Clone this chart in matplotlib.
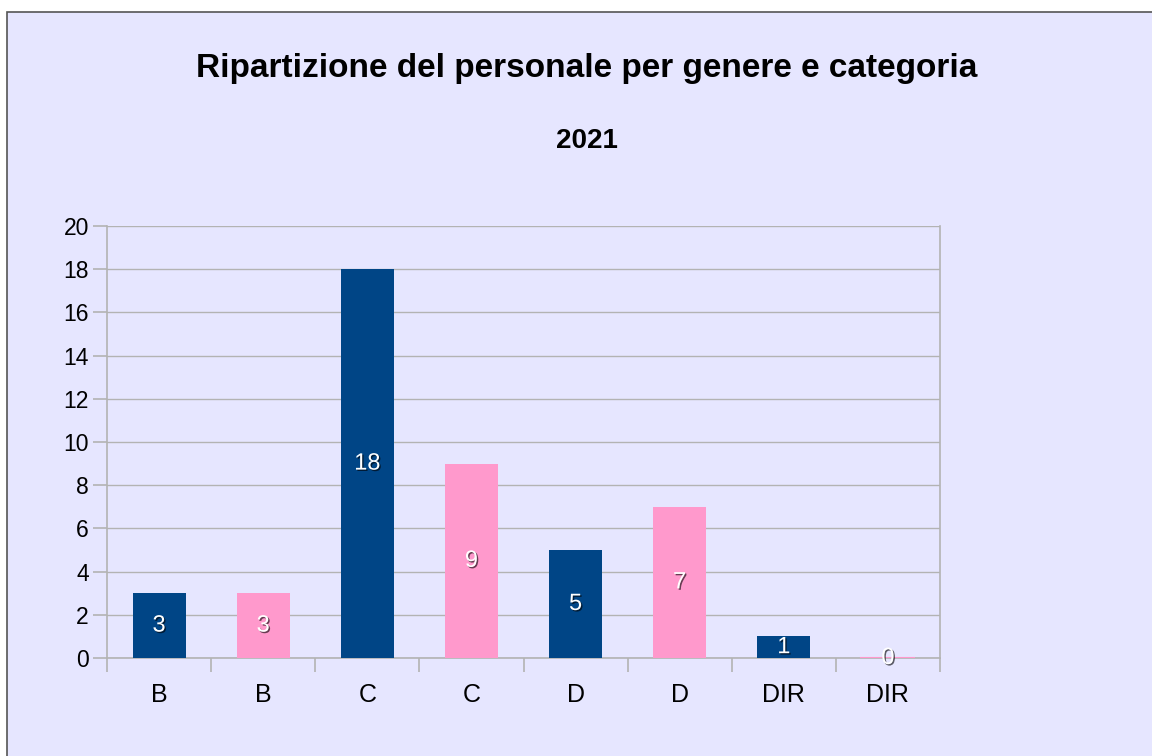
import matplotlib
matplotlib.use('Agg')
import matplotlib.pyplot as plt
import matplotlib.patheffects as pe
from matplotlib.patches import Rectangle

# data
categories = ["B", "B", "C", "C", "D", "D", "DIR", "DIR"]
values = [3, 3, 18, 9, 5, 7, 1, 0]
colors = ["#004586", "#ff99cc"] * 4

title = "Ripartizione del personale per genere e categoria"
subtitle = "2021"

plt.rcParams['font.family'] = ['Liberation Sans', 'DejaVu Sans']

fig = plt.figure(figsize=(11.52, 7.56), dpi=100)
fig.patch.set_facecolor('white')
bg = "#e6e6ff"
# chart frame (starts a few px in from the top-left)
frame = Rectangle((7 / 1152, -0.01), 1.02, 1 - 12 / 756 + 0.01, transform=fig.transFigure,
                  facecolor=bg, edgecolor="#555555", linewidth=1.2, zorder=-10)
fig.patches.append(frame)

ax = fig.add_axes([107 / 1152, 1 - 658 / 756, (940 - 107) / 1152, (658 - 226) / 756])
ax.set_facecolor(bg)

x = list(range(len(categories)))
bars = ax.bar(x, values, width=0.51, color=colors, zorder=3)
# zero-height bar still shows as a thin line
for b, v, c in zip(bars, values, colors):
    if v == 0:
        ax.plot([b.get_x(), b.get_x() + b.get_width()], [0, 0], color=c, lw=1.5, zorder=4)

ax.set_xlim(-0.5, len(categories) - 0.5)
ax.set_ylim(0, 20)
ax.set_yticks(range(0, 21, 2))
ax.set_xticks(x)
ax.set_xticklabels(categories)
ax.set_xticks([i + 0.5 for i in range(-1, len(categories))], minor=True)
ax.tick_params(axis='x', which='major', length=0, pad=18, labelsize=18)
ax.tick_params(axis='x', which='minor', length=10, color="#b3b3b3", width=1.2)
ax.tick_params(axis='y', length=10, color="#b3b3b3", width=1.2, labelsize=16.5, pad=3)
ax.grid(axis='y', color="#b3b3b3", linewidth=1, zorder=0)
for s in ax.spines.values():
    s.set_color("#b3b3b3")
    s.set_linewidth(1.2)
ax.spines['top'].set_visible(False)

shadow = [pe.withSimplePatchShadow(offset=(1, -1), shadow_rgbFace='black', alpha=0.6)]
for b, v in zip(bars, values):
    ax.text(b.get_x() + b.get_width() / 2, v / 2, str(v), ha='center', va='center',
            color='white', fontsize=17, zorder=5, path_effects=shadow)

fig.text(587 / 1152, 1 - 68 / 756, title, ha='center', va='center',
         fontsize=24, fontweight='bold')
fig.text(587 / 1152, 1 - 141 / 756, subtitle, ha='center', va='center',
         fontsize=20, fontweight='bold')

fig.savefig("out.png", dpi=100)
